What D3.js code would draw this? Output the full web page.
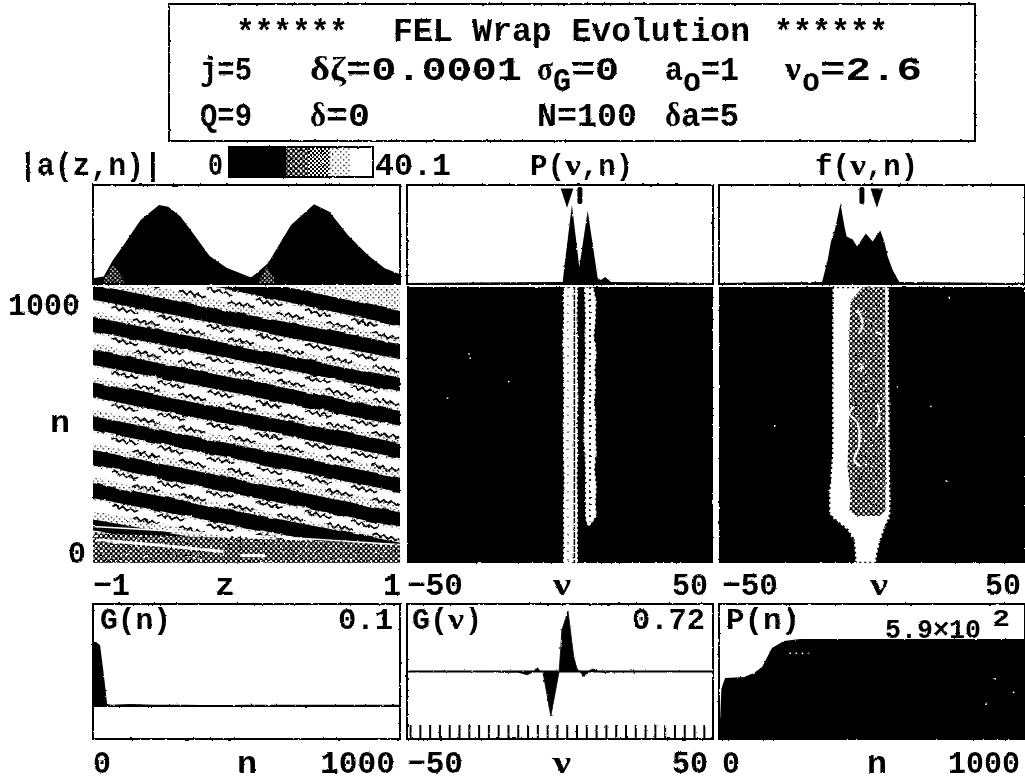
<!DOCTYPE html>
<html><head><meta charset="utf-8">
<script src="https://cdn.jsdelivr.net/npm/d3@7"></script>
<style>html,body{margin:0;padding:0;background:#fff}svg{display:block}</style>
</head><body><svg id="c" width="1025" height="783"></svg>
<script>
// ---------- data ----------
const ampZ=[-1,-0.93,-0.87,-0.80,-0.69,-0.57,-0.51,-0.43,-0.34,-0.24,-0.13,0.03,0.14,0.29,0.44,0.54,0.66,0.79,0.90,1];
const ampA=[2.3,3.0,9.7,15.8,25.9,32,31.3,27.3,19.8,11.3,6.6,2.6,8.4,23.9,32.3,29.3,19.8,11.7,6.4,4.0];
const patchZ=[[-0.93,-0.87,-0.80],[0.08,0.13,0.18]];
const patchA=[[1,8,2],[1,7,2]];
const powNu=[-50,0.9,1.4,3.9,6.3,9.05,12.3,13.4,14.7,16.7,50];
const powP=[0.01,0.02,0.17,0.80,0.17,0.74,0.06,0.04,0.07,0.02,0.01];
const fNu=[-50,-16.3,-14.5,-13.4,-12.1,-10.3,-9.0,-8.3,-6.3,-4.9,-2.0,0.2,2.7,4.0,5.1,6.8,8.9,50];
const fF=[0.01,0.02,0.24,0.43,0.55,0.81,0.58,0.48,0.45,0.38,0.51,0.43,0.54,0.43,0.28,0.14,0.02,0.01];
const markP=[2.3,6.5], markF=[-3.3,1.6];
const bandLeftN=[1122,981,866,745,627,506,383,262,138];
const bandRightN=[886,766,645,524,407,283,156,47,-62];
const bandHalf=[27,27,26,27,27,26,27,27,20];
const squigZ=[-0.88,-0.58,-0.26,0.06,0.38,0.68];
const squigDz=[0,0.025,0.05,0.075,0.10,0.125,0.15,0.175];
const squigDn=[0,8,-4,8,-5,7,-3,5];
const streakZ=[[-0.98,-0.6,-0.15],[-0.04,0.12],[-1,-0.3,0.4,1]];
const streakN=[[84,66,42],[27,27],[132,110,88,66]];
const col1N=[1000,900,800,700,600,500,400,300,200,100,0];
const col1L=[1.0,1.1,0.8,1.0,1.1,0.9,1.0,1.2,1.0,1.1,1.0];
const col1R=[5.9,5.7,5.9,5.8,6.0,5.8,5.9,5.7,5.9,5.8,5.9];
const col2N=[1000,950,880,820,760,700,640,580,520,460,400,340,280,220,170,145,132];
const col2L=[7.8,8.0,8.2,8.0,8.2,7.9,8.0,7.8,7.8,7.7,8.0,8.2,8.2,8.2,8.2,8.6,9.0];
const col2R=[11.0,11.9,11.7,11.2,12.0,11.5,11.8,11.3,11.9,11.7,12.0,11.4,12.0,11.7,12.0,10.5,9.4];
const fOutN=[1000,800,600,400,250,180,160,120,85,40,0];
const fOutL=[-12.9,-13,-13,-13,-14,-14,-12.5,-8,-6,-5.6,-5.4];
const fOutR=[5.6,5.5,5.7,5.8,6,6,5.5,4,2.9,1.8,1.3];
const fInN=[1000,950,850,700,500,350,250,190,170];
const fInL=[-3,-7,-7.4,-7.5,-7.5,-8,-7,-7.4,-5];
const fInR=[4.3,4.3,4.4,4.4,4.4,4.6,4.4,4.4,2.4];
const fCurveNu=[[-4.7,-3.0,-4.3],[-4.3,-3,-4.7],[-5.8,-7.4,-4.7,-4.3,-5.8,-3.6],[1.9,2.4,1.3],[1.3,3.4]];
const fCurveN=[[916,868,832],[723,711,699],[566,542,506,422,373,349],[578,518,494],[837,825]];
const gnN=[0,10,23,35,46,60,120,200,300,400,500,600,700,800,900,1000];
const gnG=[0.1,0.1,0.095,0.05,0.003,0.002,0.003,0.002,0.002,0.001,0.002,0.002,0.002,0.002,0.002,0.002];
const gvNu=[-50,-22,-18,-14,-10.7,-8.5,-7.5,-6.4,-5.6,-3,-0.3,0.2,0.6,2.6,4.5,5.6,6.5,7.8,9.2,10.8,12.5,14.5,20,50];
const gvG=[0,0,-0.01,-0.005,-0.04,0,0.05,0,0,-0.53,0,0.25,0.49,0.72,0.17,0.03,0,-0.06,0,0.03,0,-0.01,0,0];
const gvTicks=d3.range(-49,50,3.2);
const pnN=[0,4,8,20,82,114,141,173,212,265,400,600,800,1000];
const pnP=[60,130,300,360,366,389,425,537,578,590,590,590,590,590];
const barLevels=[0,8,16,22,28,34,40.1];
const barFills=["k","k","d","m","l","w"];
const speckNuP=[-30,-29.6,-17,-37], speckNP=[760,745,660,600];
const speckNuF=[25,8,19,24,-32], speckNF=[965,640,570,300,500];
const speckPnN=[230,250,270,290,900,870,960], speckPnP=[510,510,510,510,360,210,280];

// ---------- setup ----------
const svg=d3.select("#c");
const defs=svg.append("defs");
function pat(id,bg,fg,s,r){
  const p=defs.append("pattern").attr("id",id).attr("width",s).attr("height",s).attr("patternUnits","userSpaceOnUse");
  p.append("rect").attr("width",s).attr("height",s).attr("fill",bg);
  p.append("rect").attr("x",0).attr("y",0).attr("width",r).attr("height",r).attr("fill",fg);
  p.append("rect").attr("x",s/2).attr("y",s/2).attr("width",r).attr("height",r).attr("fill",fg);
}
pat("light","#fff","#000",5.4,1.3);
pat("mid","#fff","#000",4,2);
pat("dark","#000","#fff",5,2.2);
pat("sparse","#000","#fff",4.4,1.6);
const bar={k:"#000",d:"url(#dark)",m:"url(#mid)",l:"url(#light)",w:"#fff"};
function rough(id,freq,scale,seed,blur){
  const f=defs.append("filter").attr("id",id).attr("x",-0.02).attr("y",-0.02).attr("width",1.04).attr("height",1.04);
  f.append("feTurbulence").attr("type","fractalNoise").attr("baseFrequency",freq).attr("numOctaves",2).attr("seed",seed).attr("result","n");
  f.append("feDisplacementMap").attr("in","SourceGraphic").attr("in2","n").attr("scale",scale).attr("xChannelSelector","R").attr("yChannelSelector","G").attr("result","d");
  if(blur) f.append("feGaussianBlur").attr("in","d").attr("stdDeviation",blur);
}
rough("scan",0.28,2.2,4,0.3);
rough("wave",0.05,3.5,9,0);
const root=svg.append("g").attr("filter","url(#scan)");
root.append("rect").attr("width",1025).attr("height",783).attr("fill","#fff");

const mono="'Liberation Mono',monospace", serif="'Liberation Serif',serif";
function T(x,y,s,size,w,opt={}){
  const t=root.append("text").attr("x",x).attr("y",y).text(s)
    .attr("font-family",opt.font||mono).attr("font-weight","bold").attr("font-size",size).attr("fill","#000");
  if(w){t.attr("textLength",w).attr("lengthAdjust","spacingAndGlyphs");}
  return t;
}
const cols=[{x0:93,x1:400},{x0:407,x1:713},{x0:719,x1:1025}];
const topY=[284,185], heatY=[563,287], botY=[739,604];
const zX=d3.scaleLinear([-1,1],[cols[0].x0,cols[0].x1]);
const nuX=d3.scaleLinear([-50,50],[cols[1].x0,cols[1].x1]);
const nuX2=d3.scaleLinear([-50,50],[cols[2].x0,cols[2].x1]);
const nY=d3.scaleLinear([0,1000],heatY);
function frame(c,y0,y1){root.append("rect").attr("x",c.x0).attr("y",y1).attr("width",c.x1-c.x0).attr("height",y0-y1).attr("fill","#fff").attr("stroke","#000").attr("stroke-width",2);}
function clip(id,c,y0,y1){defs.append("clipPath").attr("id",id).append("rect").attr("x",c.x0).attr("y",y1).attr("width",c.x1-c.x0).attr("height",y0-y1);}

// ---------- title box ----------
root.append("rect").attr("x",169).attr("y",4).attr("width",806).attr("height",137).attr("fill","#fff").attr("stroke","#000").attr("stroke-width",2);
const S=33;
T(236,42,"******",S,112);
T(393,41,"FEL Wrap Evolution",S,357);
T(774,42,"******",S,114);
T(200,80,"j=5",S,52);
T(310,80,"δζ",S,36,{font:serif}); T(346,80,"=0.0001",S,176);
T(537,80,"σ",S,16,{font:serif}); T(553,91,"G",S,18); T(571,80,"=0",S,48);
T(665,80,"a",S,18); T(683,91,"o",S,18); T(701,80,"=1",S,38);
T(785,80,"ν",S,16,{font:serif}); T(802,91,"o",S,18); T(820,80,"=2.6",S,102);
T(200,126,"Q=9",S,52);
T(310,126,"δ",S,16,{font:serif}); T(326,126,"=0",S,44);
T(537,126,"N=100",S,100);
T(665,126,"δ",S,16,{font:serif}); T(681,126,"a=5",S,58);

// ---------- heading row ----------
const H=175;
T(19,H,"|a(z,n)|",31,143);
T(208,H,"0",31,15);
const barX=d3.scaleLinear([0,40.1],[229,373]);
d3.pairs(barLevels).forEach((p,i)=>root.append("rect").attr("x",barX(p[0])).attr("y",147).attr("width",barX(p[1])-barX(p[0])+0.5).attr("height",30).attr("fill",bar[barFills[i]]));
root.append("rect").attr("x",229).attr("y",147).attr("width",144).attr("height",30).attr("fill","none").attr("stroke","#000").attr("stroke-width",2);
T(375,H,"40.1",31,76);
T(530,H,"P(",29,35); T(565,H,"ν",29,16,{font:serif}); T(581,H,",n)",29,52);
T(815,H,"f(",29,35); T(850,H,"ν",29,16,{font:serif}); T(866,H,",n)",29,52);

// ---------- top profiles ----------
function profile(c,X,xs,ys,dom){
  frame(c,topY[0],topY[1]);
  const Y=d3.scaleLinear(dom,topY);
  root.append("path").attr("d",d3.area().x(d=>X(d)).y0(topY[0]).y1((d,i)=>Y(ys[i]))(xs)).attr("fill","#000");
  return Y;
}
const aY=profile(cols[0],zX,ampZ,ampA,[0,40.1]);
patchZ.forEach((zs,i)=>root.append("path").attr("d",d3.area().x(d=>zX(d)).y0(topY[0]-1).y1((d,k)=>aY(patchA[i][k]))(zs)).attr("fill","url(#sparse)"));
const pY=profile(cols[1],nuX,powNu,powP,[0,1]);
const fY=profile(cols[2],nuX2,fNu,fF,[0,1]);
const tri=d3.symbol().type(d3.symbolTriangle).size(95);
function tria(x){root.append("path").attr("d",tri()).attr("transform",`translate(${x},195) rotate(180) scale(0.85,1.5)`).attr("fill","#000");}
function pill(x){root.append("rect").attr("x",x-2.5).attr("y",187).attr("width",5).attr("height",17).attr("rx",2).attr("fill","#000");}
tria(nuX(markP[0])); pill(nuX(markP[1]));
pill(nuX2(markF[0])); tria(nuX2(markF[1]));

// ---------- |a(z,n)| heat map ----------
clip("cA",cols[0],heatY[0],heatY[1]);
const hAc=root.append("g").attr("clip-path","url(#cA)");
const hA=hAc.append("g").attr("filter","url(#wave)");
hA.append("rect").attr("x",cols[0].x0-10).attr("y",heatY[1]-10).attr("width",327).attr("height",296).attr("fill","url(#light)");
const zE=[-1.1,1.1];
const edgeN=(i,z)=>bandLeftN[i]+(bandRightN[i]-bandLeftN[i])*(z+1)/2;
const bandPoly=(i,top,bot)=>d3.line()([[zX(zE[0]),nY(edgeN(i,zE[0])+top)],[zX(zE[1]),nY(edgeN(i,zE[1])+top)],[zX(zE[1]),nY(edgeN(i,zE[1])+bot)],[zX(zE[0]),nY(edgeN(i,zE[0])+bot)]])+"Z";
bandLeftN.forEach((_,i)=>{
  hA.append("path").attr("d",bandPoly(i,-34,-72)).attr("fill","#fff");
  hA.append("path").attr("d",bandPoly(i,bandHalf[i],-bandHalf[i])).attr("fill","#000");
});
const bLine=d3.line();
bandLeftN.forEach((_,i)=>{
  [[-44,0],[-74,0.14]].forEach(([off,sh])=>{
    squigZ.forEach(z0=>{
      const pts=squigDz.map((dz,k)=>{const z=z0+sh+dz;
        return [zX(z),nY(edgeN(i,z)+off+squigDn[k])];});
      hA.append("path").attr("d",bLine(pts)).attr("fill","none").attr("stroke","#000").attr("stroke-width",1.7);
    });
  });
});
// dark region at small n
hAc.append("path").attr("d",d3.line()([[zX(-1),nY(108)],[zX(1),nY(70)],[zX(1),nY(0)],[zX(-1),nY(0)]])+"Z").attr("fill","url(#dark)");
streakZ.forEach((zs,i)=>hAc.append("path").attr("d",d3.line().x(d=>zX(d)).y((d,k)=>nY(streakN[i][k]))(zs)).attr("fill","none").attr("stroke","#fff").attr("stroke-width",i==2?1.6:3));

// ---------- P(nu,n) heat map ----------
function band(X,ns,ls,rs){
  const a=ns.map((n,i)=>[X(ls[i]),nY(n)]), b=ns.map((n,i)=>[X(rs[i]),nY(n)]).reverse();
  return d3.line()(a.concat(b))+"Z";
}
function panelBlack(c,id){clip(id,c,heatY[0],heatY[1]);const g=root.append("g").attr("clip-path",`url(#${id})`);
  g.append("rect").attr("x",c.x0).attr("y",heatY[1]).attr("width",c.x1-c.x0).attr("height",276).attr("fill","#000");return g;}
const hP=panelBlack(cols[1],"cP");
const dotted=sel=>sel.attr("fill","#fff").attr("stroke","#000").attr("stroke-width",1.6).attr("stroke-dasharray","2 3");
hP.append("path").attr("d",band(nuX,col1N,col1L,col1R)).call(dotted);
hP.append("line").attr("x1",nuX(4.7)).attr("x2",nuX(4.7)).attr("y1",nY(1000)).attr("y2",nY(0)).attr("stroke","#000").attr("stroke-width",1.5).attr("stroke-dasharray","6 1");
hP.append("path").attr("d",band(nuX,col2N,col2L,col2R)).call(dotted);
hP.append("line").attr("x1",nuX(9.8)).attr("x2",nuX(9.8)).attr("y1",nY(1000)).attr("y2",nY(150)).attr("stroke","#000").attr("stroke-width",1.8).attr("stroke-dasharray","2 4");
hP.append("line").attr("x1",nuX(2.6)).attr("x2",nuX(2.6)).attr("y1",nY(1000)).attr("y2",nY(0)).attr("stroke","#000").attr("stroke-width",1).attr("stroke-dasharray","1.5 7");
hP.selectAll(".s").data(speckNuP).join("rect").attr("x",d=>nuX(d)).attr("y",(d,i)=>nY(speckNP[i])).attr("width",1.5).attr("height",1.5).attr("fill","#fff");

// ---------- f(nu,n) heat map ----------
const hF=panelBlack(cols[2],"cF");
hF.append("path").attr("d",band(nuX2,fOutN,fOutL,fOutR)).attr("fill","#fff").attr("stroke","#000").attr("stroke-width",2.4).attr("stroke-dasharray","2 3");
hF.append("path").attr("d",band(nuX2,fInN,fInL,fInR)).attr("fill","url(#dark)");
fCurveNu.forEach((ns,i)=>hF.append("path").attr("d",d3.line().curve(d3.curveCatmullRom).x(d=>nuX2(d)).y((d,k)=>nY(fCurveN[i][k]))(ns)).attr("fill","none").attr("stroke","#fff").attr("stroke-width",2.2));
hF.selectAll(".s").data(speckNuF).join("rect").attr("x",d=>nuX2(d)).attr("y",(d,i)=>nY(speckNF[i])).attr("width",1.5).attr("height",1.5).attr("fill","#fff");

// ---------- left labels and mid tick labels ----------
const L=32, LS=32;
T(8,315,"1000",L,72); T(50,432,"n",L,20); T(68,563,"0",L,18);
const midY=595;
T(93,midY,"−1",L,37); T(215,midY,"z",L,20); T(383,midY,"1",L,18);
T(407,midY,"−50",L,56); T(553,midY,"ν",LS,18,{font:serif}); T(672,midY,"50",L,36);
T(722,midY,"−50",L,56); T(870,midY,"ν",LS,18,{font:serif}); T(985,midY,"50",L,36);

// ---------- bottom panels ----------
frame(cols[0],botY[0],botY[1]);
const gnX=d3.scaleLinear([0,1000],[cols[0].x0,cols[0].x1]);
const gnY=d3.scaleLinear([0,0.1],[706,642]);
root.append("path").attr("d",d3.area().x(d=>gnX(d)).y0(706).y1((d,i)=>gnY(gnG[i]))(gnN)).attr("fill","#000");
root.append("line").attr("x1",cols[0].x0).attr("x2",cols[0].x1).attr("y1",706).attr("y2",706).attr("stroke","#000").attr("stroke-width",2);
const B=30;
T(100,629,"G(n)",B,71); T(338,629,"0.1",B,55);

frame(cols[1],botY[0],botY[1]);
const gvX=d3.scaleLinear([-50,50],[cols[1].x0,cols[1].x1]);
const gvY=d3.scaleLinear([-0.53,0.72],[716,611]);
root.append("path").attr("d",d3.area().x(d=>gvX(d)).y0(gvY(0)).y1((d,i)=>gvY(gvG[i]))(gvNu)).attr("fill","#000").attr("stroke","#000").attr("stroke-width",0.8);
root.append("line").attr("x1",cols[1].x0).attr("x2",cols[1].x1).attr("y1",gvY(0)).attr("y2",gvY(0)).attr("stroke","#000").attr("stroke-width",2);
const axG=root.append("g").attr("transform",`translate(0,${botY[0]})`).call(d3.axisTop(gvX).tickValues(gvTicks).tickSize(14).tickFormat(""));
axG.selectAll("path").remove(); axG.selectAll("line").attr("stroke","#000").attr("stroke-width",2);
T(412,629,"G(",B,36); T(448,629,"ν",B,16,{font:serif}); T(465,629,")",B,17); T(632,629,"0.72",B,73);

frame(cols[2],botY[0],botY[1]);
T(726,629,"P(n)",B,74);
T(885,638,"5.9×10",27,96); T(992,626,"2",24,18);
const pnX=d3.scaleLinear([0,1000],[cols[2].x0,cols[2].x1]);
const pnY=d3.scaleLinear([0,590],[739,639]);
root.append("path").attr("d",d3.area().x(d=>pnX(d)).y0(739).y1((d,i)=>pnY(pnP[i]))(pnN)).attr("fill","#000");
root.selectAll(".sp").data(speckPnN).join("rect").attr("x",d=>pnX(d)).attr("y",(d,i)=>pnY(speckPnP[i])).attr("width",1.6).attr("height",1.6).attr("fill","#fff");

const botL=773;
T(93,botL,"0",L,18); T(237,botL,"n",L,20); T(320,botL,"1000",L,75);
T(407,botL,"−50",L,56); T(553,botL,"ν",LS,18,{font:serif}); T(672,botL,"50",L,36);
T(722,botL,"0",L,18); T(867,botL,"n",L,20); T(948,botL,"1000",L,72);
</script></body></html>
